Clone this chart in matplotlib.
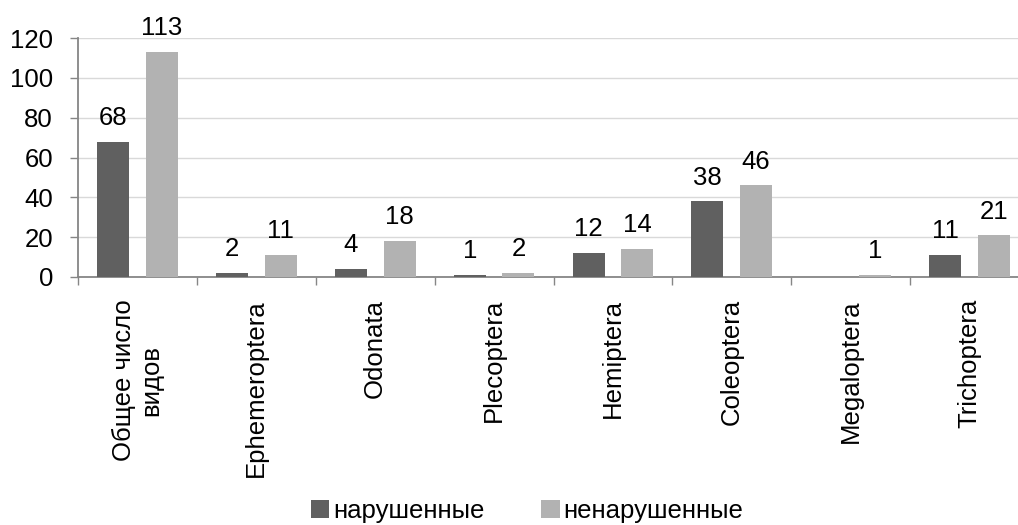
import matplotlib
matplotlib.use("Agg")
import matplotlib.pyplot as plt
import numpy as np
from matplotlib import font_manager
from matplotlib.patches import Patch
from matplotlib.ticker import FixedLocator, NullFormatter

# pick the regular-width Liberation Sans face (not the Narrow variant)
regular = [f for f in font_manager.fontManager.ttflist
           if f.name == "Liberation Sans" and f.style == "normal" and f.weight in (400, "normal")
           and "Narrow" not in f.fname]
base_family = regular[0].name if regular else "Liberation Sans"
plt.rcParams['font.family'] = [base_family, 'DejaVu Sans']

categories = ["Общее число\nвидов", "Ephemeroptera", "Odonata", "Plecoptera",
              "Hemiptera", "Coleoptera", "Megaloptera", "Trichoptera"]
disturbed = [68, 2, 4, 1, 12, 38, 0, 11]
undisturbed = [113, 11, 18, 2, 14, 46, 1, 21]
series_names = ["нарушенные", "ненарушенные"]
yticks = [0, 20, 40, 60, 80, 100, 120]

dark = "#606060"
light = "#b2b2b2"
fs = 18.5

fig = plt.figure(figsize=(10.18, 5.25), dpi=100)
W, H = 1018, 525
ax = fig.add_axes([78 / W, 1 - 277 / H, (1029 - 78) / W, (277 - 38) / H])

x = np.arange(len(categories))
bw = 0.27
off = 0.205
ax.bar(x - off, disturbed, bw, color=dark, zorder=3)
ax.bar(x + off, undisturbed, bw, color=light, zorder=3)

# value labels sit a fixed distance above each bar
for shift, values in ((-off, disturbed), (off, undisturbed)):
    for xi, v in zip(x, values):
        if v > 0:
            ax.annotate(str(v), (xi + shift, v), xytext=(0, 12), textcoords="offset points",
                        ha="center", va="baseline", fontsize=fs, color="black",
                        annotation_clip=False)

ax.set_xlim(-0.5, len(categories) - 0.5)
ax.set_ylim(0, 120)
ax.set_yticks(yticks)
ax.set_yticklabels([str(t) for t in yticks], fontsize=fs)
ax.yaxis.grid(True, color="#d9d9d9", linewidth=1, zorder=0)
ax.set_axisbelow(True)

ax.set_xticks(x)
ax.set_xticklabels(categories, rotation=90, fontsize=fs, ha="center", va="top",
                   multialignment="center")
ax.tick_params(axis="x", which="major", length=0, pad=16)
ax.xaxis.set_minor_locator(FixedLocator(np.arange(-0.5, len(categories), 1.0)))
ax.xaxis.set_minor_formatter(NullFormatter())
ax.tick_params(axis="x", which="minor", length=6, width=1, color="#868686", direction="out")
ax.tick_params(axis="y", length=6, width=1, color="#868686", direction="out", pad=12)

for s in ["top", "right"]:
    ax.spines[s].set_visible(False)
for s in ["left", "bottom"]:
    ax.spines[s].set_color("#868686")
    ax.spines[s].set_linewidth(1.3)

handles = [Patch(facecolor=dark, edgecolor="none"), Patch(facecolor=light, edgecolor="none")]
fig.legend(handles, series_names, loc="center", bbox_to_anchor=(527 / W, 1 - 511 / H),
           ncol=2, frameon=False, fontsize=fs, handlelength=0.72, handleheight=0.72,
           handletextpad=0.15, columnspacing=2.2)

fig.savefig("out.png", dpi=100)
